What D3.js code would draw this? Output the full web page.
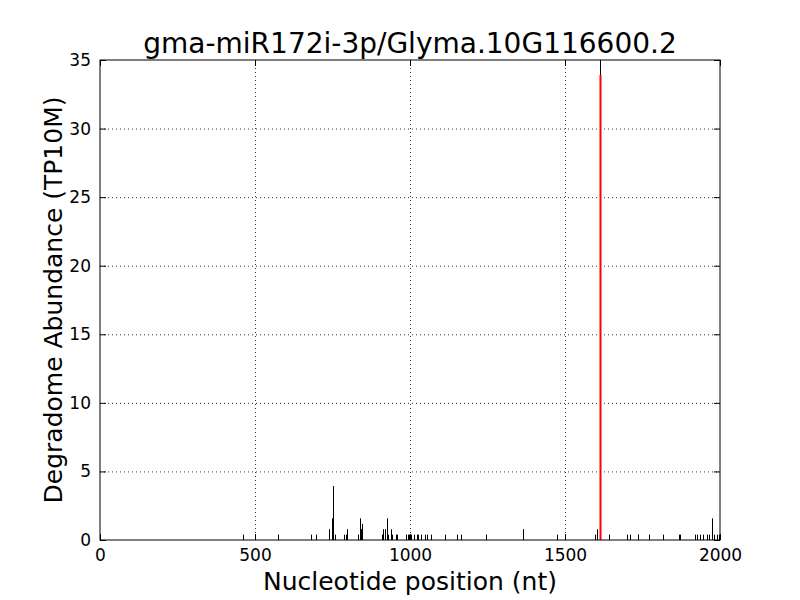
<!DOCTYPE html>
<html><head><meta charset="utf-8">
<script src="https://cdn.jsdelivr.net/npm/d3@7"></script>
<style>body{margin:0;background:#fff}svg{display:block}text{font-family:"DejaVu Sans",sans-serif}</style>
</head><body><svg id="c" width="800" height="600"></svg>
<script>
const title = "gma-miR172i-3p/Glyma.10G116600.2";
const xLabel = "Nucleotide position (nt)";
const yLabel = "Degradome Abundance (TP10M)";
const xTicks = [0, 500, 1000, 1500, 2000];
const yTicks = [0, 5, 10, 15, 20, 25, 30, 35];
// black peaks: positions (nt) and abundances
const positions = [462, 575, 681, 697, 740, 748, 753, 757, 787, 792, 797, 833, 838, 843, 846,
  909, 914, 919, 925, 930, 939, 943, 954, 957, 986, 993, 998, 1003, 1014, 1021, 1027, 1037, 1048, 1054, 1067,
  1113, 1153, 1165, 1244, 1365, 1473, 1597, 1604, 1613, 1643, 1701, 1710, 1734, 1737, 1772,
  1817, 1869, 1872, 1919, 1927, 1935, 1944, 1957, 1966, 1973, 1981, 1989, 1996];
const abundances = [0.39, 0.39, 0.39, 0.39, 0.79, 1.58, 3.94, 0.39, 0.39, 0.39, 0.79, 0.39, 1.58, 0.79, 1.18,
  0.39, 0.79, 0.79, 1.58, 0.39, 0.79, 0.39, 0.39, 0.39, 0.39, 0.39, 0.39, 0.39, 0.39, 0.39, 0.39, 0.39, 0.39, 0.39, 0.39,
  0.39, 0.39, 0.39, 0.39, 0.79, 0.39, 0.39, 0.79, 40, 0.39, 0.39, 0.39, 0.39, 0.39, 0.39,
  0.39, 0.39, 0.39, 0.39, 0.39, 0.39, 0.39, 0.39, 0.39, 1.58, 0.39, 0.39, 0.39];
// target site (red)
const targetPos = [1613];
const targetVal = [33.9];

const svg = d3.select("#c");
const m = {l: 100, r: 80, t: 60, b: 60};
const W = 800, H = 600;
const x = d3.scaleLinear().domain([0, 2000]).range([m.l, W - m.r]);
const y = d3.scaleLinear().domain([0, 35]).range([H - m.b, m.t]);

svg.append("defs").append("clipPath").attr("id", "clip")
  .append("rect").attr("x", m.l).attr("y", m.t).attr("width", W - m.r - m.l).attr("height", H - m.b - m.t);

// grid
const grid = svg.append("g");
xTicks.slice(1, -1).forEach(t => grid.append("line").attr("x1", x(t) + 0.5).attr("x2", x(t) + 0.5).attr("y1", m.t).attr("y2", H - m.b)
  .attr("stroke", "#000").attr("stroke-width", 0.8).attr("stroke-dasharray", "1,3"));
yTicks.slice(1, -1).forEach(t => grid.append("line").attr("x1", m.l).attr("x2", W - m.r).attr("y1", y(t) + 0.5).attr("y2", y(t) + 0.5)
  .attr("stroke", "#000").attr("stroke-width", 0.8).attr("stroke-dasharray", "1,3"));

const data = positions.map((p, i) => ({p, v: abundances[i]}));
const bars = svg.append("g").attr("clip-path", "url(#clip)");
bars.selectAll("line.b").data(data).join("line").attr("class", "b")
  .attr("x1", d => Math.round(x(d.p)) + 0.5).attr("x2", d => Math.round(x(d.p)) + 0.5)
  .attr("y1", y(0)).attr("y2", d => y(d.v))
  .attr("stroke", "#000").attr("stroke-width", 1);
const tdata = targetPos.map((p, i) => ({p, v: targetVal[i]}));
bars.selectAll("line.t").data(tdata).join("line").attr("class", "t")
  .attr("x1", d => Math.round(x(d.p)) + 0.5).attr("x2", d => Math.round(x(d.p)) + 0.5)
  .attr("y1", y(0)).attr("y2", d => y(d.v))
  .attr("stroke", "#ff0000").attr("stroke-width", 2);

// axes (ticks inside, mirrored)
const fs = 17;
const axB = d3.axisBottom(x).tickValues(xTicks).tickSize(-6).tickPadding(9).tickFormat(d3.format("d"));
const axL = d3.axisLeft(y).tickValues(yTicks).tickSize(-6).tickPadding(9).tickFormat(d3.format("d"));
const axT = d3.axisTop(x).tickValues(xTicks).tickSize(-6).tickFormat("");
const axR = d3.axisRight(y).tickValues(yTicks).tickSize(-6).tickFormat("");
const gb = svg.append("g").attr("transform", `translate(0,${H - m.b})`).call(axB);
const gl = svg.append("g").attr("transform", `translate(${m.l},0)`).call(axL);
const gt = svg.append("g").attr("transform", `translate(0,${m.t})`).call(axT);
const gr = svg.append("g").attr("transform", `translate(${W - m.r},0)`).call(axR);
[gb, gl, gt, gr].forEach(g => {
  g.select(".domain").remove();
  g.selectAll("line").attr("stroke", "#000");
  g.selectAll("text").attr("fill", "#000").style("font-size", fs + "px").style("font-family", '"DejaVu Sans",sans-serif');
});
svg.append("rect").attr("x", m.l).attr("y", m.t).attr("width", W - m.r - m.l).attr("height", H - m.b - m.t)
  .attr("fill", "none").attr("stroke", "#000").attr("stroke-width", 1);

svg.append("text").attr("x", (m.l + W - m.r) / 2).attr("y", 53).attr("text-anchor", "middle")
  .style("font-size", "28px").text(title);
svg.append("text").attr("x", (m.l + W - m.r) / 2).attr("y", 590).attr("text-anchor", "middle")
  .style("font-size", "25px").text(xLabel);
svg.append("text").attr("transform", `translate(62,${(m.t + H - m.b) / 2}) rotate(-90)`).attr("text-anchor", "middle")
  .style("font-size", "25px").text(yLabel);
</script></body></html>
